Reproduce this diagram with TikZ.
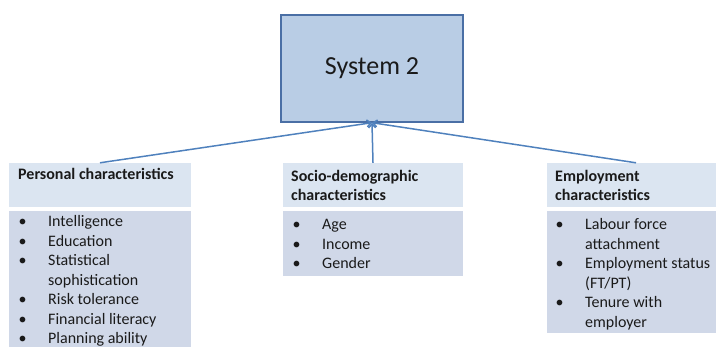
\documentclass[tikz,border=0pt]{standalone}
\usepackage{fontspec}
\setmainfont{Carlito}
\usetikzlibrary{arrows.meta}
\definecolor{sysfill}{HTML}{B9CDE5}
\definecolor{sysline}{HTML}{4A6FA5}
\definecolor{conn}{HTML}{4F81BD}
\definecolor{headfill}{HTML}{DBE5F1}
\definecolor{listfill}{HTML}{D0D8E8}
\definecolor{txt}{HTML}{1A1A1A}
\begin{document}
\begin{tikzpicture}[x=1pt,y=-1pt,
  sysbox/.style={draw=sysline, line width=1.4pt, fill=sysfill, inner sep=0pt,
    font=\fontsize{26}{30}\selectfont, text=txt},
  headbox/.style={fill=headfill, inner sep=0pt},
  listbox/.style={fill=listfill, inner sep=0pt},
  headtext/.style={anchor=base west, inner sep=0pt, align=left, text=txt,
    font=\fontsize{16}{19}\selectfont\bfseries},
  listtext/.style={anchor=north west, inner sep=0pt, text=txt,
    font=\fontsize{16}{19.5}\selectfont},
  connector/.style={draw=conn, line width=1.5pt, -{Straight Barb[length=4pt,width=7pt]}}
]
\useasboundingbox (0,0) rectangle (716,347);
\clip (0,0) rectangle (716,347);

% top box
\node[sysbox, minimum width=182pt, minimum height=107pt] (sys) at (372,68.5) {System 2};

% boxes
\node[headbox, minimum width=182pt, minimum height=44pt] (ph) at (100,185) {};
\node[listbox, minimum width=182pt, minimum height=144pt] (pl) at (100,283) {};
\node[headbox, minimum width=180pt, minimum height=44pt] (sh) at (373,185) {};
\node[listbox, minimum width=180pt, minimum height=65pt] (sl) at (373,243.5) {};
\node[headbox, minimum width=178pt, minimum height=44pt] (eh) at (636,185) {};
\node[listbox, minimum width=178pt, minimum height=122pt] (el) at (636,272) {};

% connectors
\draw[connector] (ph.north) -- (sys.south);
\draw[connector] (sh.north) -- (sys.south);
\draw[connector] (eh.north) -- (sys.south);

% header texts
\node[headtext] (pht) at (18,180) {Personal characteristics};
\node[headtext] (sht) at (291,201) {Socio-demographic\\characteristics};
\node[headtext] (eht) at (555,201) {Employment\\characteristics};

% list texts
\node[listtext] (plt) at (18.5,213) {\begin{tabular}{@{}p{29.5pt}@{}l@{}}
•& Intelligence\\
•& Education\\
•& Statistical\\
 & sophistication\\
•& Risk tolerance\\
•& Financial literacy\\
•& Planning ability
\end{tabular}};
\node[listtext] (slt) at (292.5,216) {\begin{tabular}{@{}p{29.5pt}@{}l@{}}
•& Age\\
•& Income\\
•& Gender
\end{tabular}};
\node[listtext] (elt) at (555.5,216) {\begin{tabular}{@{}p{29.5pt}@{}l@{}}
•& Labour force\\
 & attachment\\
•& Employment status\\
 & (FT/PT)\\
•& Tenure with\\
 & employer
\end{tabular}};
\end{tikzpicture}
\end{document}
